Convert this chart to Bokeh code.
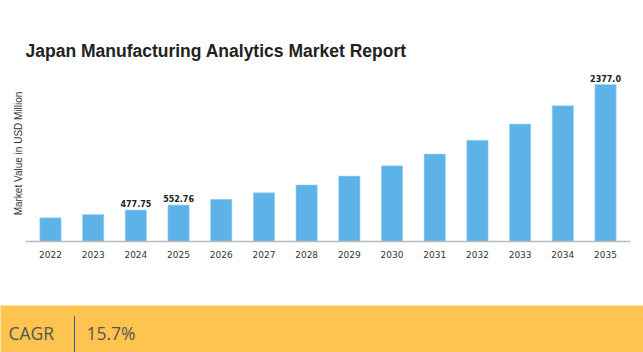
from bokeh.plotting import figure
from bokeh.models import ColumnDataSource, FixedTicker, Range1d
from bokeh.layouts import column
from bokeh.core.properties import value
from bokeh.embed import file_html
from bokeh.resources import INLINE

years = ["2022", "2023", "2024", "2025", "2026", "2027", "2028", "2029",
         "2030", "2031", "2032", "2033", "2034", "2035"]
values = [359, 410, 477.75, 552.76, 638, 738, 857, 990,
          1146, 1324, 1534, 1778, 2056, 2377.0]
value_labels = ["", "", "477.75", "552.76", "", "", "", "", "", "", "", "", "", "2377.0"]
title_text = "Japan Manufacturing Analytics Market Report"
y_label = "Market Value in USD Million"
cagr_label = "CAGR"
cagr_value = "15.7%"

xs = list(range(len(years)))
src = ColumnDataSource(dict(x=xs, top=values, lab=value_labels))

p = figure(width=643, height=305, output_backend="svg", toolbar_location=None,
           x_range=Range1d(-0.585, len(years) - 1 + 0.585),
           y_range=Range1d(0, 2665),
           min_border_left=25, min_border_right=13, min_border_top=65, min_border_bottom=64)
p.frame_align = False
p.title.text = title_text
p.title.text_font = "Liberation Sans"
p.title.text_font_size = "17.5px"
p.title.text_font_style = "bold"
p.title.text_color = "#222222"
p.title.standoff = 10
p.outline_line_color = None
p.background_fill_color = "white"
p.border_fill_color = "white"
p.xgrid.visible = False
p.ygrid.visible = False

p.vbar(x="x", top="top", width=0.5, bottom=0, source=src,
       fill_color="#5DB3E8", line_color="#a9d6f2", line_width=0.6)
p.text(x="x", y="top", text="lab", source=src, text_align="center",
       text_baseline="bottom", y_offset=-3, text_font=value("DejaVu Sans"),
       text_font_size="8px", text_font_style="bold", text_color="#222222")

p.xaxis.ticker = FixedTicker(ticks=xs)
p.xaxis.major_label_overrides = {i: y for i, y in enumerate(years)}
p.xaxis.major_label_text_font = "DejaVu Sans"
p.xaxis.major_label_text_font_size = "9px"
p.xaxis.major_label_text_color = "#333333"
p.xaxis.major_label_standoff = 3
p.xaxis.major_tick_line_color = None
p.xaxis.minor_tick_line_color = None
p.xaxis.axis_line_color = "#bbbbbb"
p.xaxis.axis_line_width = 1.5

p.yaxis.ticker = FixedTicker(ticks=[])
p.yaxis.axis_line_color = None
p.yaxis.major_tick_line_color = None
p.yaxis.minor_tick_line_color = None
p.yaxis.axis_label = y_label
p.yaxis.axis_label_text_font = "Liberation Sans"
p.yaxis.axis_label_text_font_size = "10px"
p.yaxis.axis_label_text_font_style = "normal"
p.yaxis.axis_label_text_color = "#333333"
p.yaxis.axis_label_standoff = 2

band = figure(width=643, height=47, output_backend="svg", toolbar_location=None,
              x_range=Range1d(0, 643), y_range=Range1d(0, 47),
              x_axis_location=None, y_axis_location=None,
              min_border_left=0, min_border_right=0, min_border_top=0, min_border_bottom=0)
band.frame_align = False
band.grid.visible = False
band.outline_line_color = None
band.background_fill_color = "#FEC44F"
band.border_fill_color = "#FEC44F"
band.text(x=[8], y=[19.5], text=[cagr_label], text_baseline="middle",
          text_font=value("Open Sans"), text_font_size="17.5px", text_color="#555555")
band.text(x=[86], y=[19.5], text=[cagr_value], text_baseline="middle",
          text_font=value("Open Sans"), text_font_size="17.5px", text_color="#555555")
band.segment(x0=[74], y0=[0], x1=[74], y1=[36.3], line_color="#2b5fa8", line_width=1)

layout = column(p, band, spacing=0)
open("out.html", "w").write(file_html(layout, INLINE))
